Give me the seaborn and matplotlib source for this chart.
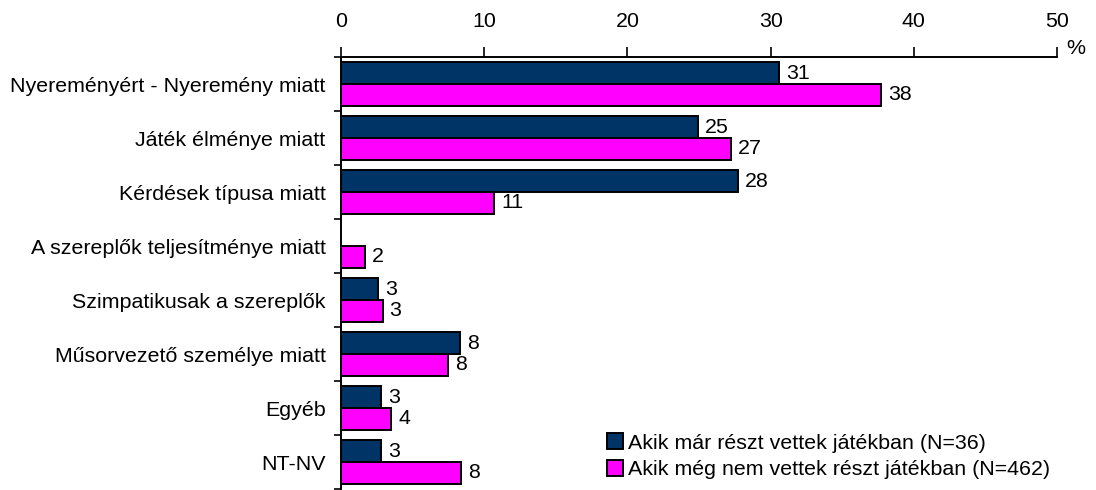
import matplotlib
matplotlib.use("Agg")
import matplotlib.pyplot as plt
from matplotlib.patches import Patch
import seaborn as sns
import pandas as pd
import numpy as np

categories = [
    "Nyereményért - Nyeremény miatt",
    "Játék élménye miatt",
    "Kérdések típusa miatt",
    "A szereplők teljesítménye miatt",
    "Szimpatikusak a szereplők",
    "Műsorvezető személye miatt",
    "Egyéb",
    "NT-NV",
]
series_names = [
    "Akik már részt vettek játékban (N=36)",
    "Akik még nem vettek részt játékban (N=462)",
]
played = [30.6, 24.9, 27.7, 0, 2.6, 8.3, 2.8, 2.8]
not_played = [37.7, 27.2, 10.7, 1.7, 2.9, 7.5, 3.5, 8.4]
x_ticks = [0, 10, 20, 30, 40, 50]

colors = ["#003366", "#FF00FF"]

df = pd.DataFrame({
    "cat": categories * 2,
    "val": played + not_played,
    "grp": [series_names[0]] * len(categories) + [series_names[1]] * len(categories),
})

sns.set_style("white")
plt.rcParams["font.family"] = ["Liberation Sans", "DejaVu Sans"]
plt.rcParams["text.color"] = "black"
plt.rcParams["xtick.color"] = "black"
plt.rcParams["ytick.color"] = "black"
FS = 15.4

fig = plt.figure(figsize=(10.96, 4.90), dpi=100)
ax = fig.add_axes([341 / 1096, 0.002, (1057 - 341) / 1096, 1 - 57 / 490 - 0.002])

sns.barplot(data=df, y="cat", x="val", hue="grp", order=categories,
            hue_order=series_names, palette=colors, orient="h",
            edgecolor="black", linewidth=1.4, width=0.8, ax=ax,
            saturation=1, errorbar=None, legend=False)

for p in ax.patches:
    if p.get_width() == 0:
        p.set_visible(False)

for cont in ax.containers:
    ax.bar_label(cont, fmt=lambda v: "" if v == 0 else f"{v:.0f}",
                 padding=5, fontsize=FS, color="black")

ax.set_xlim(0, 50)
ax.set_ylim(len(categories) - 0.5, -0.5)
ax.set_xticks(x_ticks)
ax.set_xticklabels([str(t) for t in x_ticks], fontsize=FS, color="black")
ax.xaxis.tick_top()
ax.tick_params(axis="x", which="major", direction="out", length=7,
               width=1.2, color="black", pad=12, top=True, bottom=False,
               labelcolor="black")
ax.set_yticks(range(len(categories)))
ax.set_yticklabels(categories, fontsize=FS, color="black")
ax.tick_params(axis="y", which="major", length=0, pad=11, labelcolor="black")
ax.set_yticks(np.arange(-0.5, len(categories), 1), minor=True)
ax.tick_params(axis="y", which="minor", direction="out", length=5,
               width=1.2, color="black", left=True)
ax.set_xlabel("")
ax.set_ylabel("")

for s in ["right", "bottom"]:
    ax.spines[s].set_visible(False)
for s in ["top", "left"]:
    ax.spines[s].set_visible(True)
    ax.spines[s].set_color("black")
    ax.spines[s].set_linewidth(1.4)

handles = [Patch(facecolor=c, edgecolor="black", linewidth=1.4) for c in colors]
ax.legend(handles, series_names, loc="lower left", bbox_to_anchor=(596 / 1096, 0.0),
          bbox_transform=fig.transFigure, frameon=False, fontsize=FS,
          handlelength=0.75, handleheight=0.75, handletextpad=0.25,
          labelspacing=0.35, borderaxespad=0.1)

fig.text(1066 / 1096, 1 - 48 / 490, "%", fontsize=FS, ha="left", va="center")

fig.savefig("out.png", dpi=100, facecolor="white")
